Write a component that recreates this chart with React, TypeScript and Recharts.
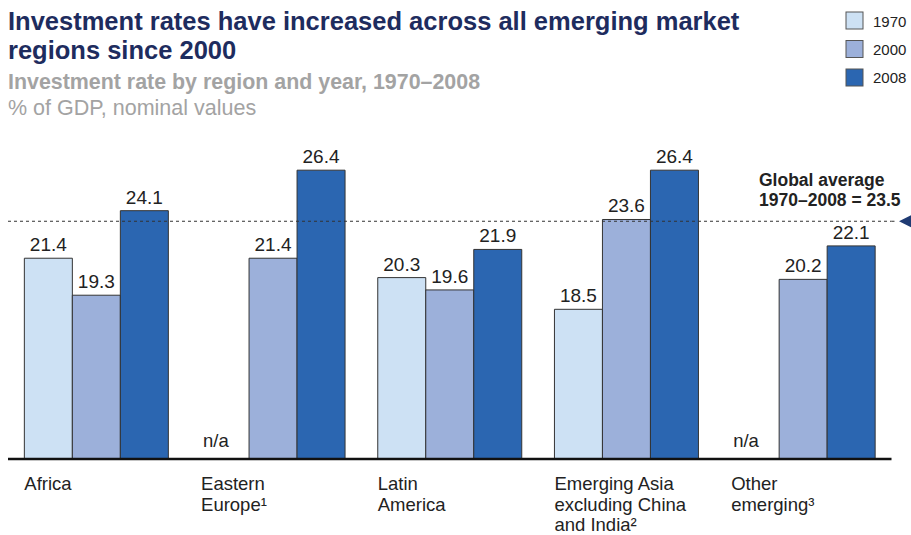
import React from 'react';
import { BarChart, Bar, XAxis, YAxis, LabelList, ReferenceLine } from 'recharts';

const categories = ['Africa', 'Eastern Europe', 'Latin America', 'Emerging Asia excluding China and India', 'Other emerging'];
const categoryLines: string[][] = [
  ['Africa'],
  ['Eastern', 'Europe¹'],
  ['Latin', 'America'],
  ['Emerging Asia', 'excluding China', 'and India²'],
  ['Other', 'emerging³'],
];
const values1970: (number | null)[] = [21.4, null, 20.3, 18.5, null];
const values2000: (number | null)[] = [19.3, 21.4, 19.6, 23.6, 20.2];
const values2008: (number | null)[] = [24.1, 26.4, 21.9, 26.4, 22.1];
const seriesYears = ['1970', '2000', '2008'];
const seriesColors = ['#cde1f4', '#9cb0da', '#2b66b1'];
const missingLabel = 'n/a';
const globalAverage = 23.5;
const globalAverageLines = ['Global average', '1970–2008 = 23.5'];

const FONT = '"Liberation Sans", Arial, Helvetica, sans-serif';

const data = categories.map((c, i) => ({
  name: c,
  y1970: values1970[i],
  y2000: values2000[i],
  y2008: values2008[i],
}));

const CategoryTick = (props: any) => {
  const { x, y, index } = props;
  const lines = categoryLines[index] || [];
  return (
    <g>
      {values1970[index] == null && (
        <text x={x - 70} y={y - 12} fontSize={18.5} fill="#222" fontFamily={FONT}>
          {missingLabel}
        </text>
      )}
      {lines.map((l, k) => (
        <text key={k} x={x - 72} y={y + 31 + k * 20.7} fontSize={18.5} fill="#222" fontFamily={FONT}>
          {l}
        </text>
      ))}
    </g>
  );
};

const makeLabel = () => (p: any) => {
  const { x, y, width, value } = p;
  if (value == null) return null;
  return (
    <text x={x + width / 2} y={y - 7} textAnchor="middle" fontSize={19} fill="#222" fontFamily={FONT}>
      {Number(value).toFixed(1)}
    </text>
  );
};

const AvgLabel = (p: any) => {
  const vb = p.viewBox || {};
  const yy = vb.y;
  const right = vb.x + vb.width;
  return (
    <g>
      {globalAverageLines.map((l, k) => (
        <text key={k} x={759} y={yy - 35 + k * 20} fontSize={17.5} fontWeight="bold" fill="#222" fontFamily={FONT}>
          {l}
        </text>
      ))}
      <line x1={right} x2={right + 4} y1={yy} y2={yy} stroke="#333" strokeDasharray="3 3" />
      <polygon points={`${right + 7.5},${yy} ${right + 19.5},${yy - 6} ${right + 19.5},${yy + 6}`} fill="#1f3b73" />
    </g>
  );
};

export default function App() {
  return (
    <div style={{ position: 'absolute', left: 0, top: 0, width: 911, height: 535, background: '#fff', fontFamily: FONT }}>
      <BarChart
        width={911}
        height={535}
        data={data}
        margin={{ top: 142, right: 19.5, bottom: 0, left: 8 }}
        barGap={0}
        barCategoryGap={16.35}
      >
        <XAxis
          dataKey="name"
          height={76}
          tickLine={false}
          tickSize={0}
          tickMargin={0}
          axisLine={{ stroke: '#111', strokeWidth: 2.5 }}
          tick={<CategoryTick />}
          interval={0}
        />
        <YAxis hide type="number" domain={[10, 28]} />
        <ReferenceLine
          y={globalAverage}
          stroke="#333"
          strokeDasharray="3 3"
          strokeWidth={1}
          label={<AvgLabel />}
        />
        {['y1970', 'y2000', 'y2008'].map((k, i) => (
          <Bar key={k} dataKey={k} fill={seriesColors[i]} stroke="#333" strokeWidth={1} isAnimationActive={false}>
            <LabelList dataKey={k} content={makeLabel()} />
          </Bar>
        ))}
      </BarChart>
      <svg width={911} height={535} style={{ position: 'absolute', left: 0, top: 0, pointerEvents: 'none' }}>
        <text x={8} y={30} fontSize={25.5} fontWeight="bold" fill="#1e2c5e" fontFamily={FONT}>
          Investment rates have increased across all emerging market
        </text>
        <text x={8} y={58.5} fontSize={25.5} fontWeight="bold" fill="#1e2c5e" fontFamily={FONT}>
          regions since 2000
        </text>
        <text x={8} y={88.5} fontSize={21.4} fontWeight="bold" fill="#a3a3a3" fontFamily={FONT}>
          Investment rate by region and year, 1970–2008
        </text>
        <text x={8} y={115} fontSize={21.5} fill="#a3a3a3" fontFamily={FONT}>
          % of GDP, nominal values
        </text>
        {seriesYears.map((yr, i) => (
          <g key={yr}>
            <rect x={846} y={12 + i * 28.5} width={17} height={17} fill={seriesColors[i]} stroke="#555" strokeWidth={1} />
            <text x={873} y={26.7 + i * 28.3} fontSize={15} fill="#222" fontFamily={FONT}>
              {yr}
            </text>
          </g>
        ))}
      </svg>
    </div>
  );
}
